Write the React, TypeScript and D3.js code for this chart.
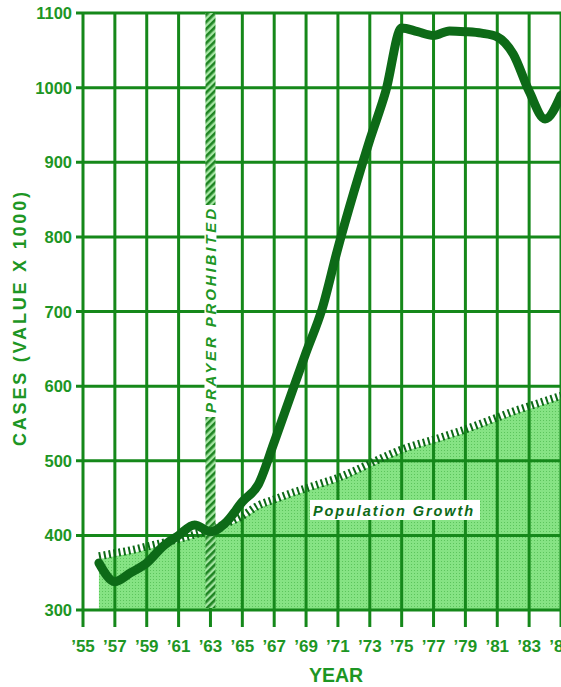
import * as d3 from 'd3'

const years = [
  56, 57, 58, 59, 60, 61, 62, 63, 64, 65, 66, 67, 68, 69, 70,
  71, 72, 73, 74, 75, 76, 77, 78, 79, 80, 81, 82, 83, 84, 85,
]
const cases = [
  363, 338, 350, 363, 385, 400, 414, 405, 418, 445, 468, 525, 585, 645, 703,
  785, 860, 930, 995, 1080, 1075, 1070, 1076, 1075, 1073, 1068, 1045, 995, 958, 990,
]
const population = [
  368, 372, 376, 381, 386, 391, 397, 404, 412, 422, 436, 444, 452, 459, 466,
  473, 482, 492, 502, 511, 518, 524, 531, 538, 546, 554, 562, 569, 576, 583,
]
const yTicks = [300, 400, 500, 600, 700, 800, 900, 1000, 1100]
const xTicks = d3.range(55, 86, 2)
const prayerYear = 63

const W = 561
const H = 687
const LINE = '#0d6a17'
const GRID = '#15881a'
const LABEL = '#1d9624'

export default function App() {
  const x = d3.scaleLinear().domain([55, 85]).range([83, 561])
  const y = d3.scaleLinear().domain([300, 1100]).range([610, 13])

  const casesLine = d3
    .line<number>()
    .x((_, i) => x(years[i]))
    .y((d) => y(d))
    .curve(d3.curveMonotoneX)

  const popArea = d3
    .area<number>()
    .x((_, i) => x(years[i]))
    .y0(y(300))
    .y1((d) => y(d))
    .curve(d3.curveMonotoneX)

  const popLine = d3
    .line<number>()
    .x((_, i) => x(years[i]))
    .y((d) => y(d) - 3)
    .curve(d3.curveMonotoneX)

  const bx = x(prayerYear)

  return (
    <svg
      width={W}
      height={H}
      style={{ position: 'absolute', left: 0, top: 0, background: '#fff' }}
      fontFamily="'Liberation Sans', Arial, sans-serif"
    >
      <defs>
        <pattern id="dots" width={3} height={3} patternUnits="userSpaceOnUse">
          <rect width={3} height={3} fill="#86e384" />
          <rect width={1} height={1} fill="#5cc45c" />
        </pattern>
        <pattern
          id="hatch"
          width={5}
          height={5}
          patternUnits="userSpaceOnUse"
          patternTransform="rotate(45)"
        >
          <rect width={5} height={5} fill="#a6e6a4" />
          <rect width={2.6} height={5} fill="#1e8422" />
        </pattern>
      </defs>

      {/* population fill */}
      <path d={popArea(population) || ''} fill="url(#dots)" />

      {/* grid */}
      {yTicks.map((t) => (
        <line key={'h' + t} x1={76} x2={W} y1={y(t)} y2={y(t)} stroke={GRID} strokeWidth={3} />
      ))}
      {xTicks.map((t) => (
        <line key={'v' + t} x1={x(t)} x2={x(t)} y1={y(1100) - 1} y2={627} stroke={GRID} strokeWidth={3} />
      ))}

      {/* population edge */}
      <path
        d={popLine(population) || ''}
        fill="none"
        stroke={LINE}
        strokeWidth={8}
        strokeDasharray="2 3"
      />

      {/* prayer prohibited band */}
      <rect x={bx - 5} y={y(1100)} width={10} height={y(300) - y(1100) - 2} fill="url(#hatch)" />
      <rect x={bx - 6} y={205} width={12} height={212} fill="#fff" />
      <text
        transform={`translate(${bx + 5.5},${311}) rotate(-90)`}
        textAnchor="middle"
        fontSize={15}
        fontWeight={700}
        fontStyle="italic"
        fill={LABEL}
        textLength={204}
        lengthAdjust="spacing"
      >
        PRAYER  PROHIBITED
      </text>

      {/* cases line */}
      <path
        d={casesLine(cases) || ''}
        fill="none"
        stroke={LINE}
        strokeWidth={9}
        strokeLinejoin="round"
        strokeLinecap="round"
      />

      {/* population label */}
      <rect x={310} y={500} width={170} height={20} fill="#fff" />
      <text
        x={313}
        y={515.5}
        fontSize={14.5}
        fontWeight={700}
        fontStyle="italic"
        fill={LINE}
        textLength={160}
        lengthAdjust="spacing"
      >
        Population Growth
      </text>

      {/* y tick labels */}
      {yTicks.map((t) => (
        <text
          key={'yl' + t}
          x={72}
          y={y(t) + 6}
          textAnchor="end"
          fontSize={16.5}
          fontWeight={700}
          fill={LABEL}
        >
          {t}
        </text>
      ))}

      {/* x tick labels */}
      {xTicks.map((t) => (
        <text
          key={'xl' + t}
          x={x(t)}
          y={652}
          textAnchor="middle"
          fontSize={17}
          fontWeight={700}
          fill={LABEL}
        >
          {'\u2019' + String(t)}
        </text>
      ))}

      <text x={336} y={682} textAnchor="middle" fontSize={19.5} fontWeight={700} fill={LABEL}>
        YEAR
      </text>

      <text
        transform={`translate(${26},${319}) rotate(-90)`}
        textAnchor="middle"
        fontSize={18}
        fontWeight={700}
        fill={LABEL}
        textLength={254}
        lengthAdjust="spacing"
      >
        CASES  (VALUE  X  1000)
      </text>
    </svg>
  )
}
